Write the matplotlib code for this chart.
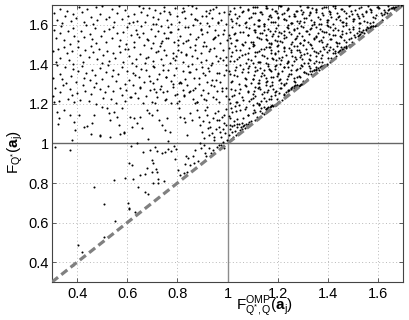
import matplotlib
matplotlib.use('Agg')
import matplotlib.pyplot as plt

plt.rcParams['font.family'] = ['Liberation Sans', 'DejaVu Sans']
plt.rcParams['mathtext.fontset'] = 'custom'
plt.rcParams['mathtext.rm'] = 'Liberation Sans'
plt.rcParams['mathtext.it'] = 'Liberation Sans:italic'
plt.rcParams['mathtext.bf'] = 'Liberation Sans:bold'

# ---------------- data ----------------
axis_limits = [0.3, 1.7]
tick_values = [0.4, 0.6, 0.8, 1.0, 1.2, 1.4, 1.6]
tick_labels = ['0.4', '0.6', '0.8', '1', '1.2', '1.4', '1.6']
reference_level = 1.0

# sparse points below F = 1
pts_low = [(0.311, 0.981), (0.373, 0.967), (0.614, 0.989), (0.662, 0.955), (0.690, 0.967),
           (0.710, 0.984), (0.720, 0.962), (0.739, 0.950), (0.752, 0.955), (0.763, 0.971),
           (0.775, 0.962), (0.785, 0.987), (0.795, 0.971), (0.836, 0.938), (0.842, 0.925),
           (0.862, 0.937), (0.872, 0.967), (0.909, 0.954), (0.915, 0.937), (0.925, 0.976),
           (0.935, 0.950), (0.943, 0.967), (0.957, 0.984), (0.792, 0.922), (0.832, 0.895),
           (0.852, 0.891), (0.865, 0.900), (0.881, 0.913), (0.608, 0.903), (0.619, 0.891),
           (0.699, 0.917), (0.703, 0.900), (0.716, 0.870), (0.699, 0.858), (0.679, 0.875),
           (0.652, 0.840), (0.670, 0.844), (0.719, 0.855), (0.803, 0.866), (0.812, 0.840),
           (0.825, 0.849), (0.838, 0.858), (0.592, 0.824), (0.623, 0.821), (0.546, 0.816),
           (0.723, 0.819), (0.702, 0.802), (0.721, 0.802), (0.745, 0.812), (0.466, 0.779),
           (0.643, 0.782), (0.672, 0.757), (0.682, 0.745), (0.509, 0.694), (0.603, 0.701),
           (0.608, 0.672), (0.606, 0.669), (0.630, 0.655), (0.550, 0.610), (0.506, 0.529),
           (0.403, 0.487), (0.421, 0.452), (0.383, 0.386), (0.976, 0.990), (0.985, 0.975),
           (0.968, 0.993), (0.893, 0.975), (0.905, 0.990)]

# band 1.0 - 1.22, left of 1
pts_b1 = [(0.307, 1.212), (0.32, 1.161), (0.327, 1.127), (0.324, 1.099), (0.347, 1.169),
          (0.373, 1.144), (0.386, 1.11), (0.393, 1.068), (0.406, 1.144), (0.426, 1.085),
          (0.44, 1.089), (0.46, 1.102), (0.466, 1.144), (0.493, 1.043), (0.5, 1.186),
          (0.52, 1.178), (0.526, 1.153), (0.533, 1.119), (0.546, 1.161), (0.559, 1.136),
          (0.566, 1.094), (0.579, 1.178), (0.586, 1.052), (0.613, 1.136), (0.619, 1.085),
          (0.626, 1.127), (0.639, 1.102), (0.652, 1.136), (0.659, 1.077), (0.679, 1.169),
          (0.686, 1.153), (0.699, 1.144), (0.712, 1.203), (0.719, 1.169), (0.726, 1.119),
          (0.739, 1.094), (0.752, 1.068), (0.759, 1.127), (0.772, 1.06), (0.799, 1.203),
          (0.805, 1.178), (0.812, 1.136), (0.825, 1.127), (0.832, 1.11), (0.839, 1.043),
          (0.852, 1.153), (0.859, 1.119), (0.872, 1.203), (0.879, 1.169), (0.885, 1.136),
          (0.892, 1.094), (0.899, 1.06), (0.905, 1.026), (0.912, 1.169), (0.918, 1.144),
          (0.925, 1.11), (0.932, 1.085), (0.938, 1.052), (0.945, 1.018), (0.952, 1.153),
          (0.958, 1.119), (0.965, 1.085), (0.972, 1.06), (0.978, 1.136), (0.985, 1.102),
          (0.992, 1.052), (0.998, 1.018), (0.378, 1.018), (0.455, 1.048), (0.491, 1.040),
          (0.531, 1.035), (0.571, 1.048), (0.588, 1.057), (0.639, 1.003), (0.891, 1.001),
          (0.762, 1.012), (0.683, 1.021), (0.947, 1.032), (0.981, 1.071), (0.994, 1.094),
          (0.903, 1.112), (0.917, 1.187), (0.928, 1.043), (0.941, 1.128), (0.954, 1.071),
          (0.963, 1.164), (0.976, 1.034), (0.988, 1.142), (0.996, 1.176), (0.921, 1.079),
          (0.968, 1.118), (0.983, 1.009)]

# left of 1, bands 1.2 .. 1.7
l2_x = [0.304, 0.313, 0.327, 0.333, 0.345, 0.362, 0.370, 0.381, 0.386, 0.401, 0.411, 0.424, 0.431,
        0.447, 0.456, 0.468, 0.474, 0.492, 0.503, 0.511, 0.525, 0.535, 0.542, 0.555, 0.570, 0.579,
        0.591, 0.596, 0.612, 0.623, 0.631, 0.645, 0.651, 0.661, 0.674, 0.691, 0.698, 0.707, 0.719,
        0.734, 0.742, 0.753, 0.759, 0.773, 0.783, 0.799, 0.808, 0.821, 0.826, 0.838, 0.846, 0.861,
        0.872, 0.879, 0.893, 0.903, 0.915, 0.924, 0.941, 0.947, 0.960, 0.968, 0.979, 0.994]
l2_y = [1.238, 1.281, 1.215, 1.262, 1.294, 1.227, 1.273, 1.246, 1.209, 1.255, 1.221, 1.297, 1.264,
        1.213, 1.248, 1.286, 1.202, 1.275, 1.231, 1.259, 1.292, 1.224, 1.267, 1.205, 1.283, 1.244,
        1.216, 1.271, 1.236, 1.298, 1.253, 1.228, 1.285, 1.207, 1.242, 1.269, 1.211, 1.277, 1.234,
        1.290, 1.258, 1.223, 1.266, 1.203, 1.287, 1.249, 1.214, 1.272, 1.239, 1.295, 1.261, 1.226,
        1.280, 1.208, 1.245, 1.270, 1.219, 1.257, 1.233, 1.291, 1.264, 1.212, 1.278, 1.241]

l3_x = [0.304, 0.319, 0.330, 0.338, 0.351, 0.357, 0.374, 0.383, 0.395, 0.405, 0.419, 0.426, 0.437,
        0.452, 0.460, 0.472, 0.477, 0.490, 0.499, 0.515, 0.525, 0.539, 0.545, 0.556, 0.564, 0.579,
        0.591, 0.600, 0.607, 0.624, 0.637, 0.647, 0.653, 0.667, 0.675, 0.686, 0.702, 0.707, 0.719,
        0.728, 0.743, 0.756, 0.763, 0.773, 0.787, 0.795, 0.806, 0.824, 0.830, 0.842, 0.851, 0.867,
        0.874, 0.887, 0.897, 0.912, 0.917, 0.928, 0.936, 0.953, 0.965, 0.971, 0.985, 0.994]
l3_y = [1.330, 1.397, 1.352, 1.325, 1.388, 1.306, 1.341, 1.378, 1.312, 1.364, 1.391, 1.333, 1.357,
        1.319, 1.370, 1.345, 1.308, 1.380, 1.326, 1.361, 1.395, 1.339, 1.372, 1.314, 1.349, 1.387,
        1.303, 1.366, 1.323, 1.358, 1.390, 1.334, 1.377, 1.311, 1.369, 1.342, 1.307, 1.385, 1.328,
        1.353, 1.398, 1.336, 1.371, 1.316, 1.344, 1.383, 1.305, 1.367, 1.324, 1.392, 1.359, 1.331,
        1.375, 1.302, 1.386, 1.348, 1.313, 1.364, 1.397, 1.321, 1.355, 1.309, 1.346, 1.373]

l4_x = [0.303, 0.315, 0.322, 0.332, 0.347, 0.358, 0.366, 0.379, 0.385, 0.402, 0.411, 0.423, 0.433,
        0.447, 0.454, 0.465, 0.480, 0.488, 0.500, 0.505, 0.518, 0.527, 0.543, 0.553, 0.567, 0.573,
        0.584, 0.592, 0.607, 0.619, 0.628, 0.635, 0.652, 0.665, 0.675, 0.681, 0.695, 0.703, 0.714,
        0.730, 0.735, 0.747, 0.756, 0.771, 0.784, 0.791, 0.801, 0.815, 0.823, 0.834, 0.852, 0.858,
        0.870, 0.879, 0.895, 0.902, 0.915, 0.925, 0.940, 0.945, 0.956, 0.964, 0.981, 0.993]
l4_y = [1.469, 1.411, 1.477, 1.434, 1.490, 1.458, 1.423, 1.466, 1.403, 1.487, 1.449, 1.414, 1.472,
        1.439, 1.495, 1.461, 1.426, 1.480, 1.408, 1.445, 1.470, 1.419, 1.457, 1.433, 1.491, 1.464,
        1.412, 1.478, 1.441, 1.406, 1.488, 1.425, 1.452, 1.497, 1.430, 1.438, 1.481, 1.415, 1.462,
        1.494, 1.427, 1.473, 1.446, 1.409, 1.455, 1.421, 1.497, 1.464, 1.413, 1.448, 1.486, 1.402,
        1.475, 1.431, 1.459, 1.492, 1.424, 1.467, 1.405, 1.483, 1.444, 1.416, 1.471, 1.436]

l5_x = [0.307, 0.316, 0.330, 0.336, 0.348, 0.365, 0.373, 0.384, 0.389, 0.404, 0.414, 0.427, 0.434,
        0.450, 0.459, 0.471, 0.477, 0.495, 0.506, 0.514, 0.528, 0.538, 0.545, 0.558, 0.573, 0.582,
        0.594, 0.599, 0.615, 0.626, 0.634, 0.648, 0.654, 0.664, 0.677, 0.694, 0.701, 0.710, 0.722,
        0.737, 0.745, 0.756, 0.762, 0.776, 0.786, 0.802, 0.811, 0.824, 0.829, 0.841, 0.849, 0.864,
        0.875, 0.882, 0.896, 0.906, 0.918, 0.927, 0.944, 0.950, 0.963, 0.971, 0.982, 0.997]
l5_y = [1.575, 1.531, 1.559, 1.592, 1.524, 1.567, 1.505, 1.583, 1.544, 1.516, 1.571, 1.536, 1.598,
        1.553, 1.528, 1.585, 1.507, 1.542, 1.569, 1.511, 1.577, 1.534, 1.590, 1.558, 1.523, 1.566,
        1.503, 1.587, 1.549, 1.514, 1.572, 1.539, 1.595, 1.561, 1.526, 1.580, 1.508, 1.545, 1.570,
        1.519, 1.557, 1.533, 1.591, 1.564, 1.512, 1.578, 1.541, 1.506, 1.588, 1.525, 1.552, 1.597,
        1.530, 1.538, 1.581, 1.515, 1.562, 1.594, 1.527, 1.573, 1.546, 1.509, 1.555, 1.521]

l6_x = [0.306, 0.321, 0.332, 0.340, 0.353, 0.359, 0.376, 0.385, 0.397, 0.407, 0.421, 0.428, 0.439,
        0.454, 0.462, 0.474, 0.479, 0.492, 0.501, 0.517, 0.527, 0.541, 0.547, 0.558, 0.566, 0.581,
        0.593, 0.602, 0.609, 0.626, 0.639, 0.649, 0.655, 0.669, 0.677, 0.688, 0.704, 0.709, 0.721,
        0.730, 0.745, 0.758, 0.765, 0.775, 0.789, 0.797, 0.808, 0.826, 0.832, 0.844, 0.853, 0.869,
        0.876, 0.889, 0.899, 0.914, 0.919, 0.930, 0.938, 0.955, 0.967, 0.973, 0.987, 0.996]
l6_y = [1.661, 1.626, 1.680, 1.608, 1.645, 1.670, 1.619, 1.657, 1.633, 1.691, 1.664, 1.612, 1.678,
        1.641, 1.606, 1.688, 1.625, 1.652, 1.697, 1.630, 1.638, 1.681, 1.615, 1.662, 1.694, 1.627,
        1.673, 1.646, 1.609, 1.655, 1.621, 1.697, 1.664, 1.613, 1.648, 1.686, 1.602, 1.675, 1.631,
        1.659, 1.692, 1.624, 1.667, 1.605, 1.683, 1.644, 1.616, 1.671, 1.636, 1.698, 1.653, 1.628,
        1.685, 1.607, 1.642, 1.669, 1.611, 1.677, 1.634, 1.690, 1.658, 1.623, 1.666, 1.603]

lx_x = [0.703, 0.714, 0.730, 0.735, 0.747, 0.756, 0.771, 0.784, 0.791, 0.801, 0.815, 0.823, 0.834,
        0.852, 0.858, 0.870, 0.879, 0.895, 0.902, 0.915, 0.925, 0.940, 0.945, 0.956, 0.964, 0.981,
        0.993]
lx_y = [1.390, 1.605, 1.275, 1.510, 1.670, 1.335, 1.565, 1.430, 1.245, 1.475, 1.305, 1.685, 1.520,
        1.265, 1.440, 1.630, 1.210, 1.575, 1.355, 1.495, 1.660, 1.320, 1.535, 1.225, 1.615, 1.420,
        1.280]

ly_x = [0.804, 0.811, 0.819, 0.826, 0.833, 0.842, 0.848, 0.857, 0.863, 0.871, 0.878, 0.886, 0.893,
        0.899, 0.907, 0.914, 0.921, 0.929, 0.936, 0.942, 0.951, 0.957, 0.964, 0.972, 0.979, 0.986,
        0.995]
ly_y = [1.523, 1.312, 1.664, 1.244, 1.451, 1.587, 1.362, 1.693, 1.271, 1.498, 1.626, 1.333, 1.414,
        1.552, 1.226, 1.645, 1.381, 1.476, 1.295, 1.681, 1.537, 1.354, 1.609, 1.432, 1.263, 1.574,
        1.398]

lz_x = [0.603, 0.614, 0.622, 0.633, 0.641, 0.652, 0.664, 0.671, 0.683, 0.692, 0.704, 0.713, 0.722,
        0.734, 0.741, 0.752, 0.763, 0.771, 0.784, 0.793]
lz_y = [1.478, 1.236, 1.612, 1.345, 1.553, 1.282, 1.687, 1.407, 1.521, 1.318, 1.641, 1.259, 1.466,
        1.594, 1.372, 1.218, 1.535, 1.653, 1.301, 1.442]

# right of 1 (above the diagonal)
pts_r1 = [(1.003, 1.012), (1.006, 1.041), (1.009, 1.073), (1.013, 1.025), (1.016, 1.088),
          (1.019, 1.057), (1.023, 1.034), (1.027, 1.096), (1.031, 1.062), (1.034, 1.045),
          (1.038, 1.081), (1.042, 1.053), (1.046, 1.099), (1.051, 1.068), (1.055, 1.085),
          (1.059, 1.072), (1.064, 1.093), (1.068, 1.079), (1.073, 1.098), (1.078, 1.089),
          (1.083, 1.097), (1.011, 1.092), (1.036, 1.099), (1.061, 1.088)]

r2a_x = [1.004, 1.013, 1.027, 1.033, 1.045, 1.062, 1.070, 1.081, 1.086, 1.101, 1.111, 1.124, 1.131,
         1.147, 1.156, 1.168, 1.174, 1.192]
r2a_y = [1.138, 1.181, 1.115, 1.162, 1.194, 1.127, 1.173, 1.146, 1.109, 1.155, 1.121, 1.197, 1.164,
         1.183, 1.178, 1.186, 1.189, 1.197]
r2b_x = [1.008, 1.019, 1.030, 1.038, 1.051, 1.057, 1.074, 1.083, 1.095, 1.105, 1.119, 1.126, 1.137,
         1.152, 1.160, 1.172, 1.177, 1.190]
r2b_y = [1.131, 1.159, 1.192, 1.124, 1.167, 1.105, 1.183, 1.144, 1.116, 1.171, 1.136, 1.198, 1.153,
         1.174, 1.185, 1.188, 1.193, 1.196]
r2c_x = [1.102, 1.111, 1.123, 1.133, 1.147, 1.154, 1.165, 1.180, 1.188]
r2c_y = [1.195, 1.161, 1.126, 1.180, 1.151, 1.176, 1.170, 1.191, 1.194]

r3a_x = [1.004, 1.013, 1.027, 1.033, 1.045, 1.062, 1.070, 1.081, 1.086, 1.101, 1.111, 1.124, 1.131,
         1.147, 1.156, 1.168, 1.174, 1.192, 1.203, 1.211, 1.225, 1.235, 1.242, 1.255, 1.270, 1.279,
         1.291, 1.296]
r3a_y = [1.227, 1.273, 1.246, 1.209, 1.255, 1.221, 1.297, 1.264, 1.213, 1.248, 1.286, 1.202, 1.275,
         1.231, 1.259, 1.292, 1.224, 1.267, 1.205, 1.283, 1.244, 1.262, 1.271, 1.279, 1.298, 1.294,
         1.297, 1.299]
r3b_x = [1.008, 1.019, 1.030, 1.038, 1.051, 1.057, 1.074, 1.083, 1.095, 1.105, 1.119, 1.126, 1.137,
         1.152, 1.160, 1.172, 1.177, 1.190, 1.199, 1.215, 1.225, 1.239, 1.245, 1.256, 1.264, 1.279,
         1.291]
r3b_y = [1.207, 1.242, 1.269, 1.211, 1.277, 1.234, 1.290, 1.258, 1.223, 1.266, 1.203, 1.287, 1.249,
         1.214, 1.272, 1.239, 1.295, 1.261, 1.226, 1.280, 1.251, 1.245, 1.270, 1.288, 1.283, 1.296,
         1.298]
r3c_x = [1.102, 1.111, 1.123, 1.133, 1.147, 1.154, 1.165, 1.180, 1.188, 1.200, 1.205, 1.218, 1.227,
         1.243, 1.253, 1.267, 1.273, 1.284, 1.292]
r3c_y = [1.230, 1.238, 1.281, 1.215, 1.262, 1.294, 1.227, 1.273, 1.246, 1.209, 1.255, 1.221, 1.297,
         1.264, 1.276, 1.289, 1.286, 1.293, 1.299]

r4a_x = [1.004, 1.013, 1.027, 1.033, 1.045, 1.062, 1.070, 1.081, 1.086, 1.101, 1.111, 1.124, 1.131,
         1.147, 1.156, 1.168, 1.174, 1.192, 1.203, 1.211, 1.225, 1.235, 1.242, 1.255, 1.270, 1.279,
         1.291, 1.296, 1.312, 1.323, 1.331, 1.345, 1.351, 1.361, 1.374, 1.391]
r4a_y = [1.364, 1.313, 1.348, 1.386, 1.302, 1.375, 1.331, 1.359, 1.392, 1.324, 1.367, 1.305, 1.383,
         1.344, 1.316, 1.371, 1.336, 1.398, 1.353, 1.328, 1.385, 1.307, 1.342, 1.369, 1.311, 1.377,
         1.334, 1.390, 1.358, 1.349, 1.366, 1.372, 1.387, 1.381, 1.393, 1.396]
r4b_x = [1.008, 1.019, 1.030, 1.038, 1.051, 1.057, 1.074, 1.083, 1.095, 1.105, 1.119, 1.126, 1.137,
         1.152, 1.160, 1.172, 1.177, 1.190, 1.199, 1.215, 1.225, 1.239, 1.245, 1.256, 1.264, 1.279,
         1.291, 1.300, 1.307, 1.324, 1.337, 1.347, 1.353, 1.367, 1.375, 1.386]
r4b_y = [1.349, 1.314, 1.372, 1.339, 1.395, 1.361, 1.326, 1.380, 1.308, 1.345, 1.370, 1.319, 1.357,
         1.333, 1.391, 1.364, 1.312, 1.378, 1.341, 1.306, 1.388, 1.325, 1.352, 1.397, 1.330, 1.338,
         1.381, 1.315, 1.362, 1.394, 1.368, 1.373, 1.379, 1.389, 1.392, 1.397]
r4c_x = [1.102, 1.111, 1.123, 1.133, 1.147, 1.154, 1.165, 1.180, 1.188, 1.200, 1.205, 1.218, 1.227,
         1.243, 1.253, 1.267, 1.273, 1.284, 1.292, 1.307, 1.319, 1.328, 1.335, 1.352, 1.365, 1.375,
         1.381, 1.395]
r4c_y = [1.328, 1.385, 1.307, 1.342, 1.369, 1.311, 1.377, 1.334, 1.390, 1.358, 1.323, 1.366, 1.303,
         1.387, 1.349, 1.314, 1.372, 1.339, 1.395, 1.361, 1.326, 1.380, 1.351, 1.374, 1.370, 1.386,
         1.393, 1.399]

r5a_x = [1.004, 1.013, 1.027, 1.033, 1.045, 1.062, 1.070, 1.081, 1.086, 1.101, 1.111, 1.124, 1.131,
         1.147, 1.156, 1.168, 1.174, 1.192, 1.203, 1.211, 1.225, 1.235, 1.242, 1.255, 1.270, 1.279,
         1.291, 1.296, 1.312, 1.323, 1.331, 1.345, 1.351, 1.361, 1.374, 1.391, 1.398, 1.407, 1.419,
         1.434, 1.442, 1.453, 1.459, 1.473, 1.483]
r5a_y = [1.483, 1.444, 1.416, 1.471, 1.436, 1.498, 1.453, 1.428, 1.485, 1.407, 1.442, 1.469, 1.411,
         1.477, 1.434, 1.490, 1.458, 1.423, 1.466, 1.403, 1.487, 1.449, 1.414, 1.472, 1.439, 1.495,
         1.461, 1.426, 1.480, 1.408, 1.445, 1.470, 1.419, 1.457, 1.433, 1.491, 1.464, 1.412, 1.478,
         1.441, 1.463, 1.488, 1.476, 1.489, 1.497]
r5b_x = [1.008, 1.019, 1.030, 1.038, 1.051, 1.057, 1.074, 1.083, 1.095, 1.105, 1.119, 1.126, 1.137,
         1.152, 1.160, 1.172, 1.177, 1.190, 1.199, 1.215, 1.225, 1.239, 1.245, 1.256, 1.264, 1.279,
         1.291, 1.300, 1.307, 1.324, 1.337, 1.347, 1.353, 1.367, 1.375, 1.386, 1.402, 1.407, 1.419,
         1.428, 1.443, 1.456, 1.463, 1.473, 1.487]
r5b_y = [1.415, 1.462, 1.494, 1.427, 1.473, 1.446, 1.409, 1.455, 1.421, 1.497, 1.464, 1.413, 1.448,
         1.486, 1.402, 1.475, 1.431, 1.459, 1.492, 1.424, 1.467, 1.405, 1.483, 1.444, 1.416, 1.471,
         1.436, 1.498, 1.453, 1.428, 1.485, 1.407, 1.442, 1.469, 1.411, 1.477, 1.434, 1.490, 1.458,
         1.468, 1.466, 1.479, 1.487, 1.492, 1.496]
r5c_x = [1.102, 1.111, 1.123, 1.133, 1.147, 1.154, 1.165, 1.180, 1.188, 1.200, 1.205, 1.218, 1.227,
         1.243, 1.253, 1.267, 1.273, 1.284, 1.292, 1.307, 1.319, 1.328, 1.335, 1.352, 1.365, 1.375,
         1.381, 1.395, 1.403, 1.414, 1.430, 1.435, 1.447, 1.456, 1.471, 1.484, 1.491]
r5c_y = [1.491, 1.464, 1.412, 1.478, 1.441, 1.406, 1.488, 1.425, 1.452, 1.497, 1.430, 1.438, 1.481,
         1.415, 1.462, 1.494, 1.427, 1.473, 1.446, 1.409, 1.455, 1.421, 1.497, 1.464, 1.413, 1.448,
         1.486, 1.402, 1.475, 1.431, 1.459, 1.492, 1.471, 1.467, 1.485, 1.493, 1.498]

r6a_x = [1.004, 1.013, 1.027, 1.033, 1.045, 1.062, 1.070, 1.081, 1.086, 1.101, 1.111, 1.124, 1.131,
         1.147, 1.156, 1.168, 1.174, 1.192, 1.203, 1.211, 1.225, 1.235, 1.242, 1.255, 1.270, 1.279,
         1.291, 1.296, 1.312, 1.323, 1.331, 1.345, 1.351, 1.361, 1.374, 1.391, 1.398, 1.407, 1.419,
         1.434, 1.442, 1.453, 1.459, 1.473, 1.483, 1.499, 1.508, 1.521, 1.526, 1.538, 1.546, 1.561,
         1.572, 1.579, 1.593]
r6a_y = [1.546, 1.509, 1.555, 1.521, 1.597, 1.564, 1.513, 1.548, 1.586, 1.502, 1.575, 1.531, 1.559,
         1.592, 1.524, 1.567, 1.505, 1.583, 1.544, 1.516, 1.571, 1.536, 1.598, 1.553, 1.528, 1.585,
         1.507, 1.542, 1.569, 1.511, 1.577, 1.534, 1.590, 1.558, 1.523, 1.566, 1.503, 1.587, 1.549,
         1.514, 1.572, 1.539, 1.595, 1.561, 1.526, 1.580, 1.538, 1.545, 1.570, 1.563, 1.557, 1.582,
         1.591, 1.594, 1.599]
r6b_x = [1.008, 1.019, 1.030, 1.038, 1.051, 1.057, 1.074, 1.083, 1.095, 1.105, 1.119, 1.126, 1.137,
         1.152, 1.160, 1.172, 1.177, 1.190, 1.199, 1.215, 1.225, 1.239, 1.245, 1.256, 1.264, 1.279,
         1.291, 1.300, 1.307, 1.324, 1.337, 1.347, 1.353, 1.367, 1.375, 1.386, 1.402, 1.407, 1.419,
         1.428, 1.443, 1.456, 1.463, 1.473, 1.487, 1.495, 1.506, 1.524, 1.530, 1.542, 1.551, 1.567,
         1.574, 1.587]
r6b_y = [1.534, 1.590, 1.558, 1.523, 1.566, 1.503, 1.587, 1.549, 1.514, 1.572, 1.539, 1.595, 1.561,
         1.526, 1.580, 1.508, 1.545, 1.570, 1.519, 1.557, 1.533, 1.591, 1.564, 1.512, 1.578, 1.541,
         1.506, 1.588, 1.525, 1.552, 1.597, 1.530, 1.538, 1.581, 1.515, 1.562, 1.594, 1.527, 1.573,
         1.546, 1.509, 1.555, 1.521, 1.597, 1.564, 1.513, 1.548, 1.586, 1.551, 1.575, 1.579, 1.588,
         1.592, 1.596]
r6c_x = [1.102, 1.111, 1.123, 1.133, 1.147, 1.154, 1.165, 1.180, 1.188, 1.200, 1.205, 1.218, 1.227,
         1.243, 1.253, 1.267, 1.273, 1.284, 1.292, 1.307, 1.319, 1.328, 1.335, 1.352, 1.365, 1.375,
         1.381, 1.395, 1.403, 1.414, 1.430, 1.435, 1.447, 1.456, 1.471, 1.484, 1.491, 1.501, 1.515,
         1.523, 1.534, 1.552, 1.558, 1.570, 1.579, 1.595]
r6c_y = [1.515, 1.562, 1.594, 1.527, 1.573, 1.546, 1.509, 1.555, 1.521, 1.597, 1.564, 1.513, 1.548,
         1.586, 1.502, 1.575, 1.531, 1.559, 1.592, 1.524, 1.567, 1.505, 1.583, 1.544, 1.516, 1.571,
         1.536, 1.598, 1.553, 1.528, 1.585, 1.507, 1.542, 1.569, 1.511, 1.577, 1.534, 1.590, 1.558,
         1.546, 1.566, 1.572, 1.587, 1.584, 1.593, 1.598]

r7a_x = [1.004, 1.013, 1.027, 1.033, 1.045, 1.062, 1.070, 1.081, 1.086, 1.101, 1.111, 1.124, 1.131,
         1.147, 1.156, 1.168, 1.174, 1.192, 1.203, 1.211, 1.225, 1.235, 1.242, 1.255, 1.270, 1.279,
         1.291, 1.296, 1.312, 1.323, 1.331, 1.345, 1.351, 1.361, 1.374, 1.391, 1.398, 1.407, 1.419,
         1.434, 1.442, 1.453, 1.459, 1.473, 1.483, 1.499, 1.508, 1.521, 1.526, 1.538, 1.546, 1.561,
         1.572, 1.579, 1.593, 1.603, 1.615, 1.624, 1.641, 1.647, 1.660, 1.668, 1.679, 1.694]
r7a_y = [1.653, 1.628, 1.685, 1.607, 1.642, 1.669, 1.611, 1.677, 1.634, 1.690, 1.658, 1.623, 1.666,
         1.603, 1.687, 1.649, 1.614, 1.672, 1.639, 1.695, 1.661, 1.626, 1.680, 1.608, 1.645, 1.670,
         1.619, 1.657, 1.633, 1.691, 1.664, 1.612, 1.678, 1.641, 1.606, 1.688, 1.625, 1.652, 1.697,
         1.630, 1.638, 1.681, 1.615, 1.662, 1.694, 1.627, 1.673, 1.646, 1.609, 1.655, 1.621, 1.697,
         1.664, 1.613, 1.648, 1.686, 1.651, 1.675, 1.676, 1.659, 1.692, 1.689, 1.693, 1.699]
r7b_x = [1.008, 1.019, 1.030, 1.038, 1.051, 1.057, 1.074, 1.083, 1.095, 1.105, 1.119, 1.126, 1.137,
         1.152, 1.160, 1.172, 1.177, 1.190, 1.199, 1.215, 1.225, 1.239, 1.245, 1.256, 1.264, 1.279,
         1.291, 1.300, 1.307, 1.324, 1.337, 1.347, 1.353, 1.367, 1.375, 1.386, 1.402, 1.407, 1.419,
         1.428, 1.443, 1.456, 1.463, 1.473, 1.487, 1.495, 1.506, 1.524, 1.530, 1.542, 1.551, 1.567,
         1.574, 1.587, 1.597, 1.612, 1.617, 1.628, 1.636, 1.653, 1.665, 1.671, 1.685, 1.694]
r7b_y = [1.670, 1.619, 1.657, 1.633, 1.691, 1.664, 1.612, 1.678, 1.641, 1.606, 1.688, 1.625, 1.652,
         1.697, 1.630, 1.638, 1.681, 1.615, 1.662, 1.694, 1.627, 1.673, 1.646, 1.609, 1.655, 1.621,
         1.697, 1.664, 1.613, 1.648, 1.686, 1.602, 1.675, 1.631, 1.659, 1.692, 1.624, 1.667, 1.605,
         1.683, 1.644, 1.616, 1.671, 1.636, 1.698, 1.653, 1.628, 1.685, 1.607, 1.642, 1.669, 1.611,
         1.677, 1.634, 1.690, 1.658, 1.623, 1.666, 1.662, 1.687, 1.683, 1.688, 1.694, 1.698]
r7c_x = [1.102, 1.111, 1.123, 1.133, 1.147, 1.154, 1.165, 1.180, 1.188, 1.200, 1.205, 1.218, 1.227,
         1.243, 1.253, 1.267, 1.273, 1.284, 1.292, 1.307, 1.319, 1.328, 1.335, 1.352, 1.365, 1.375,
         1.381, 1.395, 1.403, 1.414, 1.430, 1.435, 1.447, 1.456, 1.471, 1.484, 1.491, 1.501, 1.515,
         1.523, 1.534, 1.552, 1.558, 1.570, 1.579, 1.595, 1.602, 1.615, 1.625, 1.640, 1.645, 1.656,
         1.664, 1.681, 1.693]
r7c_y = [1.659, 1.692, 1.624, 1.667, 1.605, 1.683, 1.644, 1.616, 1.671, 1.636, 1.698, 1.653, 1.628,
         1.685, 1.607, 1.642, 1.669, 1.611, 1.677, 1.634, 1.690, 1.658, 1.623, 1.666, 1.603, 1.687,
         1.649, 1.614, 1.672, 1.639, 1.695, 1.661, 1.626, 1.680, 1.608, 1.645, 1.670, 1.619, 1.657,
         1.633, 1.691, 1.664, 1.612, 1.678, 1.641, 1.606, 1.688, 1.625, 1.652, 1.697, 1.679, 1.684,
         1.681, 1.691, 1.697]

xy_series = [
    (l2_x, l2_y), (l3_x, l3_y), (l4_x, l4_y), (l5_x, l5_y), (l6_x, l6_y),
    (lx_x, lx_y), (ly_x, ly_y), (lz_x, lz_y),
    (r2a_x, r2a_y), (r2b_x, r2b_y), (r2c_x, r2c_y),
    (r3a_x, r3a_y), (r3b_x, r3b_y), (r3c_x, r3c_y),
    (r4a_x, r4a_y), (r4b_x, r4b_y), (r4c_x, r4c_y),
    (r5a_x, r5a_y), (r5b_x, r5b_y), (r5c_x, r5c_y),
    (r6a_x, r6a_y), (r6b_x, r6b_y), (r6c_x, r6c_y),
    (r7a_x, r7a_y), (r7b_x, r7b_y), (r7c_x, r7c_y),
]

xs, ys = [], []
for p in pts_low + pts_b1 + pts_r1:
    xs.append(p[0])
    ys.append(p[1])
for sx, sy in xy_series:
    for a, b in zip(sx, sy):
        xs.append(a)
        ys.append(b)

# ---------------- figure ----------------
W, H = 409, 320
fig = plt.figure(figsize=(W / 100, H / 100), dpi=100)
ax = fig.add_axes([52 / W, (H - 282) / H, 351 / W, 277 / H])

ax.set_xlim(axis_limits)
ax.set_ylim(axis_limits)
ax.set_xticks(tick_values)
ax.set_xticklabels(tick_labels)
ax.set_yticks(tick_values)
ax.set_yticklabels(tick_labels)
ax.grid(True, linestyle=(0, (1, 2.5)), color='#b8b8b8', linewidth=0.7)
ax.set_axisbelow(True)
ax.tick_params(direction='in', top=True, right=True, length=3, width=0.6,
               labelsize=10.5, color='#444444')
ax.tick_params(axis='x', pad=3.5)
ax.tick_params(axis='y', pad=2)
for s in ax.spines.values():
    s.set_color('#444444')
    s.set_linewidth(0.8)

ax.axvline(reference_level, color='#8c8c8c', linewidth=1.0, zorder=2)
ax.axhline(reference_level, color='#666666', linewidth=1.0, zorder=2)

ax.scatter(xs, ys, s=2.2, c='black', linewidths=0, zorder=3)

ax.plot(axis_limits, axis_limits, color='#808080', linewidth=2.3,
        dashes=(2.4, 1.3), zorder=4, solid_capstyle='butt')

fig.text(15 / W, 1 - 152 / H, r'$\mathrm{F}_{\mathrm{Q}^{*}}(\mathbf{a}_{\mathrm{j}})$',
         rotation=90, ha='center', va='center', fontsize=11)
fig.text(265 / W, 1 - 306 / H,
         r'$\mathrm{F}^{\mathrm{OMP}}_{\mathrm{Q}^{*},\mathrm{Q}}(\mathbf{a}_{\mathrm{j}})$',
         ha='center', va='center', fontsize=11)

fig.savefig('out.png', dpi=100)
